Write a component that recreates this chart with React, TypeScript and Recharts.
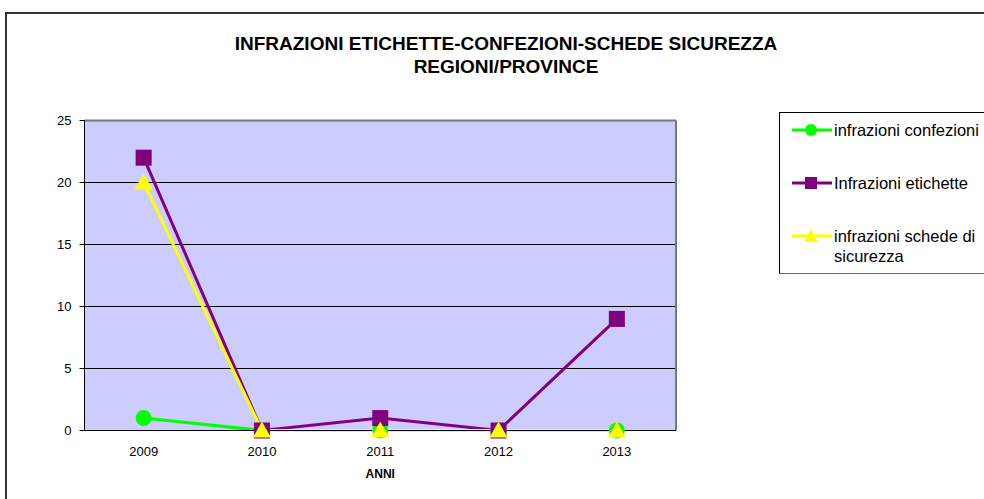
import React from "react";
import {
  CartesianGrid,
  Line,
  LineChart,
  ReferenceLine,
  XAxis,
  YAxis,
} from "recharts";

const years = ["2009", "2010", "2011", "2012", "2013"];
const confezioni = [1, 0, 0, 0, 0];
const etichette = [22, 0, 1, 0, 9];
const schede = [20, 0, 0, 0, 0];
const yTicks = [0, 5, 10, 15, 20, 25];

const data = years.map((y, i) => ({
  idx: i + 1,
  year: y,
  confezioni: confezioni[i],
  etichette: etichette[i],
  schede: schede[i],
}));

const font = "'Liberation Sans', Arial, sans-serif";

const CircleDot = (props: any) => {
  const { cx, cy } = props;
  if (cx == null || cy == null) return null;
  return <circle cx={cx} cy={cy} r={8} fill="#00ff00" stroke="none" />;
};

const SquareDot = (props: any) => {
  const { cx, cy } = props;
  if (cx == null || cy == null) return null;
  return <rect x={cx - 8} y={cy - 8} width={16} height={16} fill="#800080" />;
};

const TriangleDot = (props: any) => {
  const { cx, cy } = props;
  if (cx == null || cy == null) return null;
  return (
    <polygon
      points={`${cx},${cy - 9} ${cx + 9},${cy + 7} ${cx - 9},${cy + 7}`}
      fill="#ffff00"
    />
  );
};

const legendItems = [
  { label: "infrazioni confezioni", color: "#00ff00", shape: "circle" },
  { label: "Infrazioni etichette", color: "#800080", shape: "square" },
  { label: "infrazioni schede di sicurezza", color: "#ffff00", shape: "triangle" },
];

function LegendBox() {
  return (
    <div
      style={{
        position: "absolute",
        left: 779,
        top: 112,
        width: 230,
        height: 162,
        border: "1px solid #000",
        borderBottomColor: "#666",
        boxSizing: "border-box",
        fontFamily: font,
        fontSize: 16.5,
        background: "#fff",
      }}
    >
      {legendItems.map((it, i) => (
        <div
          key={it.label}
          style={{
            position: "absolute",
            left: 12,
            top: 7 + i * 53,
            display: "flex",
            alignItems: "flex-start",
          }}
        >
          <svg width={42} height={20} style={{ flex: "none" }}>
            <line x1={0} y1={10} x2={40} y2={10} stroke={it.color} strokeWidth={3} />
            {it.shape === "circle" && <circle cx={19} cy={10} r={6} fill={it.color} />}
            {it.shape === "square" && <rect x={13} y={4} width={12} height={12} fill={it.color} />}
            {it.shape === "triangle" && (
              <polygon points="19,3 26,16 12,16" fill={it.color} />
            )}
          </svg>
          <span style={{ width: 165, lineHeight: "20px" }}>{it.label}</span>
        </div>
      ))}
    </div>
  );
}

export default function App() {
  return (
    <div
      style={{
        position: "fixed",
        left: 0,
        top: 0,
        width: 984,
        height: 499,
        overflow: "hidden",
        background: "#fff",
        fontFamily: font,
      }}
    >
      <div
        style={{
          position: "absolute",
          left: 5,
          top: 12,
          width: 1000,
          height: 520,
          border: "2px solid #333",
          boxSizing: "border-box",
        }}
      />
      <div
        style={{
          position: "absolute",
          left: 0,
          width: 1012,
          top: 32,
          textAlign: "center",
          fontWeight: "bold",
          fontSize: 19,
          lineHeight: "23px",
        }}
      >
        INFRAZIONI ETICHETTE-CONFEZIONI-SCHEDE SICUREZZA
        <br />
        REGIONI/PROVINCE
      </div>
      <div style={{ position: "absolute", left: 0, top: 0 }}>
        <LineChart
          width={984}
          height={499}
          data={data}
          margin={{ top: 120.5, right: 308, left: 0.5, bottom: 38.5 }}
        >
          <CartesianGrid
            fill="#ccccff"
            fillOpacity={1}
            vertical={false}
            stroke="#000"
            strokeOpacity={1}
          />
          <XAxis
            xAxisId="main"
            type="number"
            dataKey="idx"
            domain={[0.5, 5.5]}
            ticks={[1, 2, 3, 4, 5]}
            tickFormatter={(v: number) => years[v - 1]}
            tickLine={false}
            axisLine={{ stroke: "#000" }}
            tick={{ fill: "#000", fontSize: 13, fontFamily: font }}
            tickMargin={10}
            height={30}
            label={{
              value: "ANNI",
              position: "insideBottom",
              offset: -17,
              fill: "#000",
              fontSize: 12,
              fontWeight: "bold",
              fontFamily: font,
            }}
          />
          <XAxis
            xAxisId="marks"
            type="number"
            dataKey="idx"
            domain={[0.5, 5.5]}
            ticks={[0.5, 1.5, 2.5, 3.5, 4.5, 5.5]}
            tick={false}
            tickLine={{ stroke: "#000" }}
            tickSize={5}
            axisLine={false}
            height={0}
          />
          <YAxis
            domain={[0, 25]}
            ticks={yTicks}
            width={84}
            axisLine={{ stroke: "#000" }}
            tickLine={{ stroke: "#000" }}
            tickSize={5}
            tickMargin={8}
            tick={{ fill: "#000", fontSize: 13, fontFamily: font }}
            interval={0}
          />
          <ReferenceLine xAxisId="main" y={25} stroke="#777" strokeWidth={2} />
          <ReferenceLine xAxisId="main" x={5.5} stroke="#777" strokeWidth={2} />
          <Line
            xAxisId="main"
            type="linear"
            dataKey="confezioni"
            stroke="#00ff00"
            strokeWidth={3}
            dot={<CircleDot />}
            activeDot={false}
            isAnimationActive={false}
          />
          <Line
            xAxisId="main"
            type="linear"
            dataKey="etichette"
            stroke="#800080"
            strokeWidth={3}
            dot={<SquareDot />}
            activeDot={false}
            isAnimationActive={false}
          />
          <Line
            xAxisId="main"
            type="linear"
            dataKey="schede"
            stroke="#ffff00"
            strokeWidth={3}
            dot={<TriangleDot />}
            activeDot={false}
            isAnimationActive={false}
          />
        </LineChart>
      </div>
      <LegendBox />
    </div>
  );
}
